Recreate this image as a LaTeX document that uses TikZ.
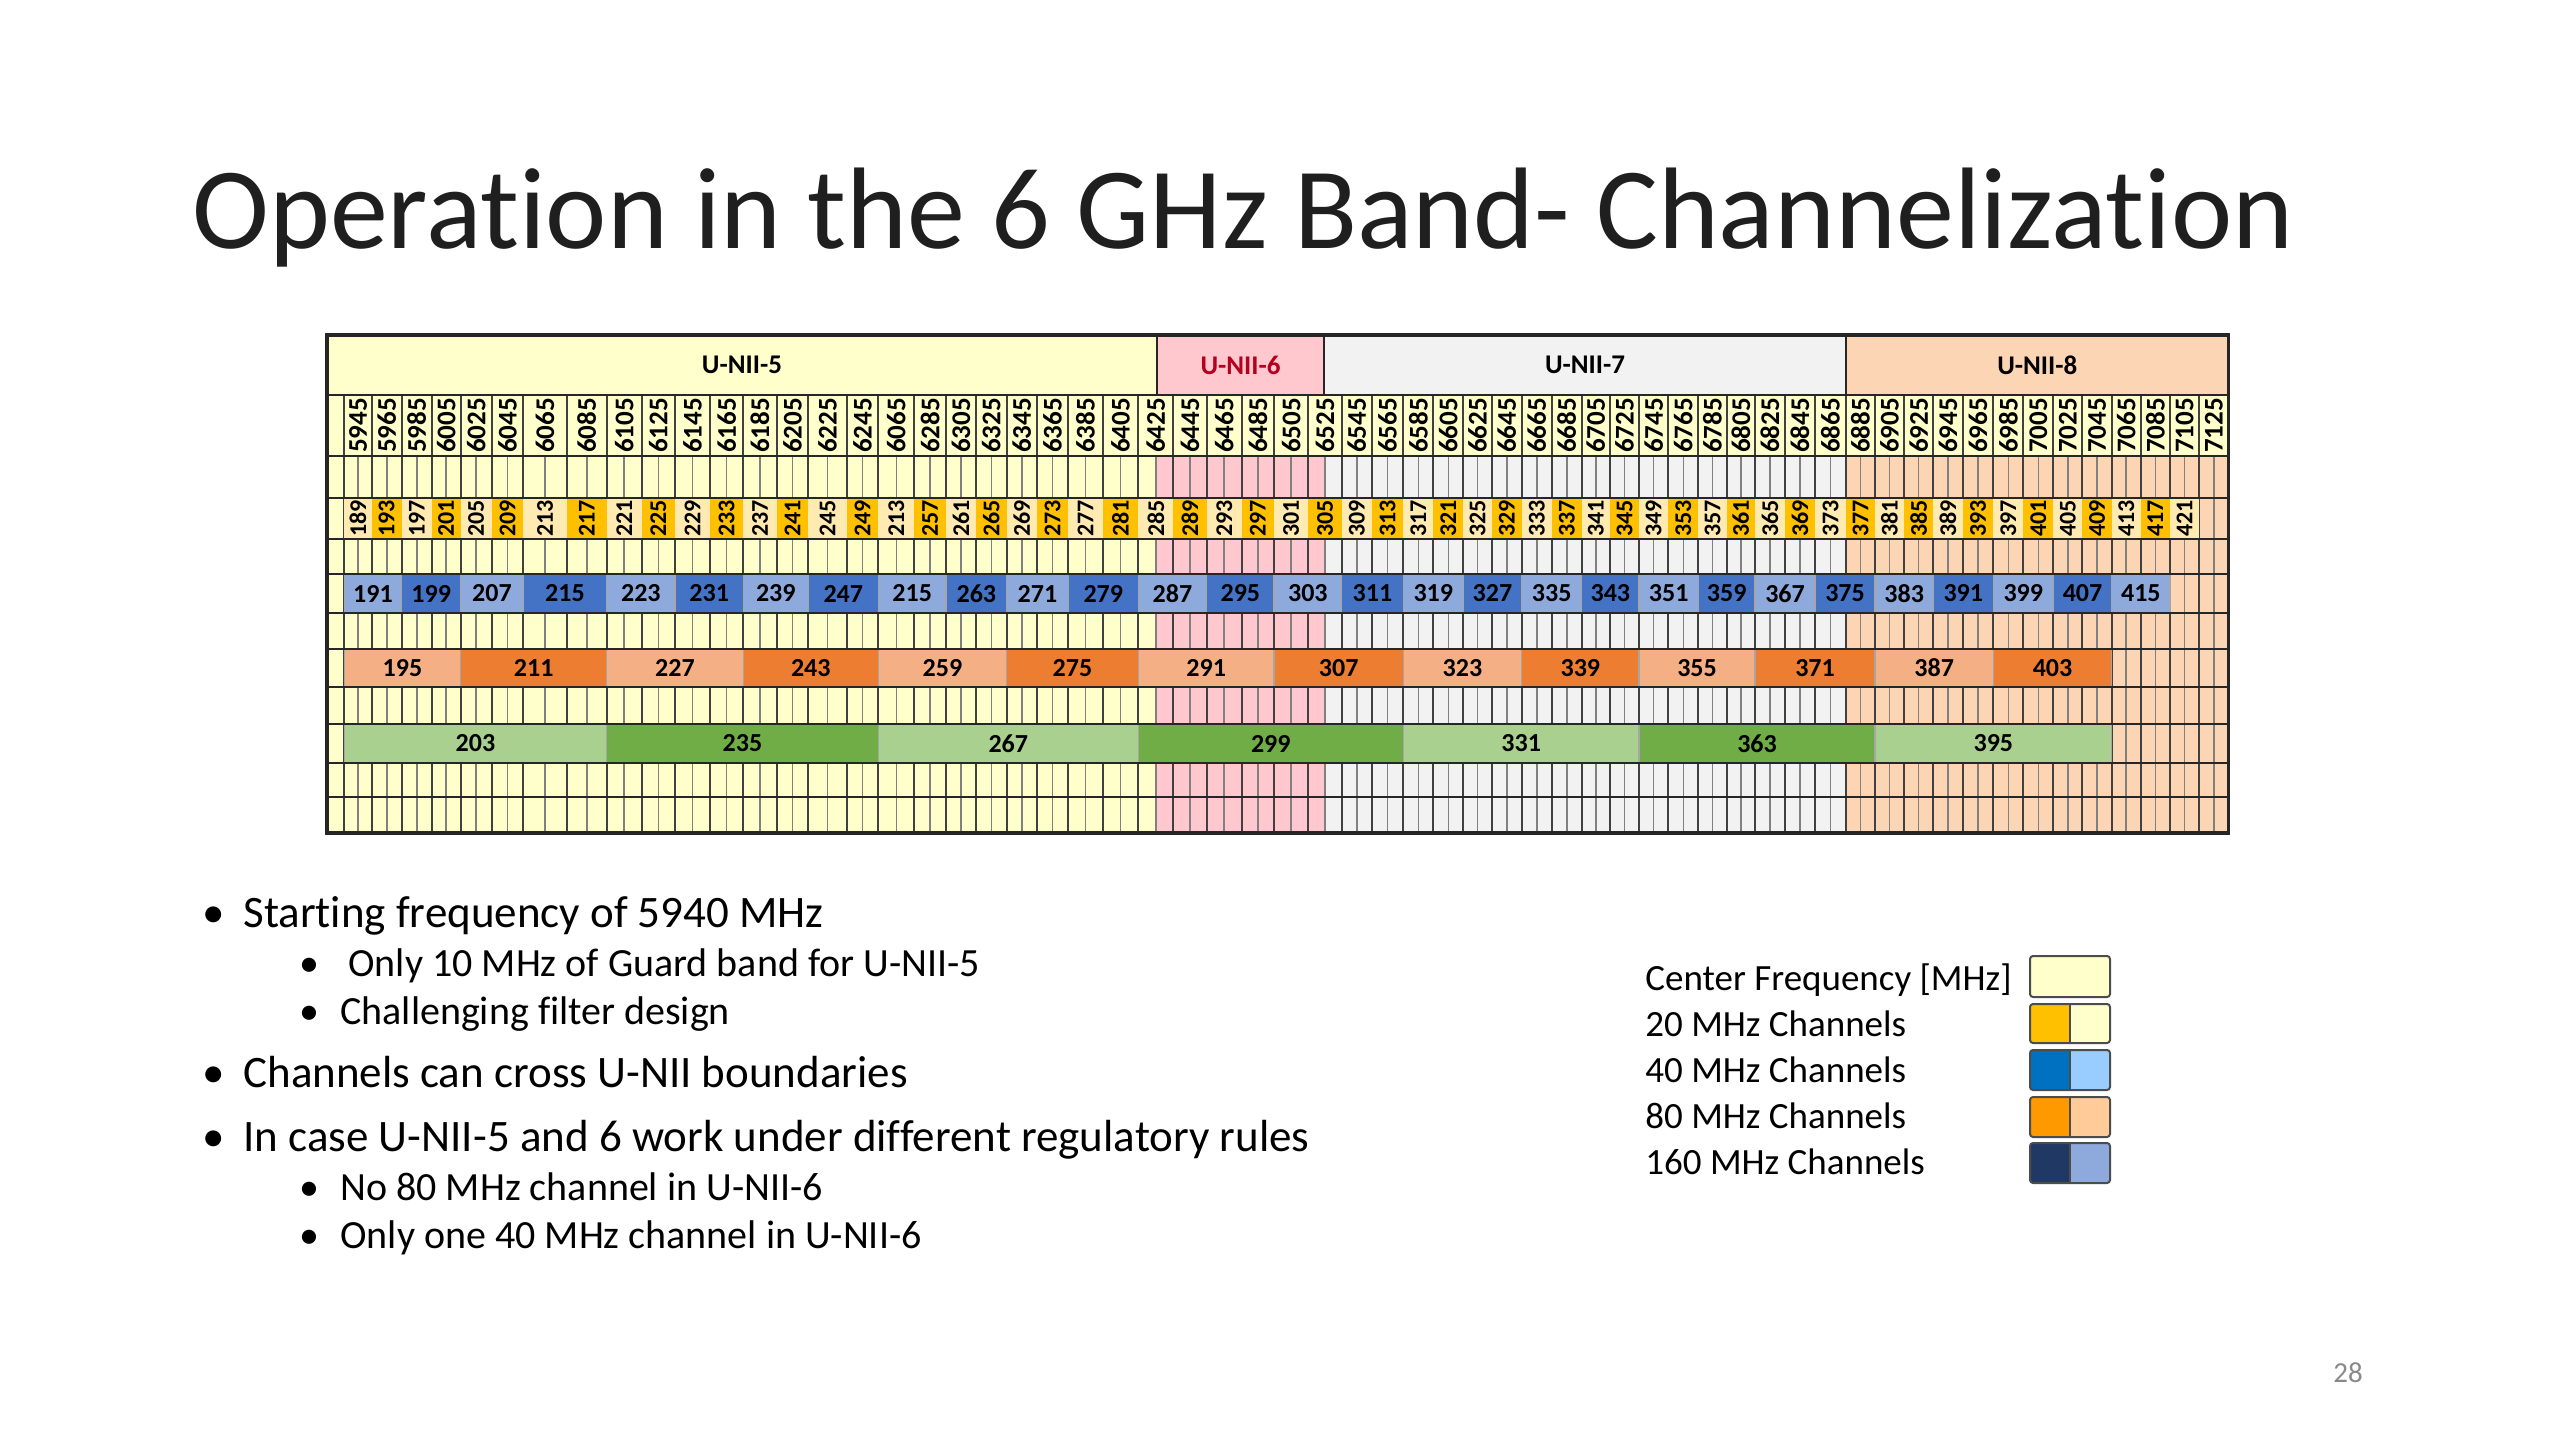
\documentclass[tikz,border=0pt]{standalone}
\usepackage{fontspec}
\setmainfont{Carlito}[Ligatures=NoCommon]
\definecolor{bandA}{RGB}{255,255,204}
\definecolor{bandB}{RGB}{255,199,206}
\definecolor{bandC}{RGB}{242,242,242}
\definecolor{bandD}{RGB}{252,213,180}
\definecolor{unisix}{RGB}{180,0,30}
\definecolor{cTwL}{RGB}{255,235,178}
\definecolor{cTwD}{RGB}{255,192,0}
\definecolor{cFoL}{RGB}{142,169,219}
\definecolor{cFoD}{RGB}{68,114,196}
\definecolor{cEiL}{RGB}{244,176,132}
\definecolor{cEiD}{RGB}{237,125,49}
\definecolor{cSxL}{RGB}{169,208,142}
\definecolor{cSxD}{RGB}{112,173,71}
\definecolor{lgFoD}{RGB}{0,112,192}
\definecolor{lgFoL}{RGB}{153,204,255}
\definecolor{lgEiD}{RGB}{255,153,0}
\definecolor{lgEiL}{RGB}{255,204,153}
\definecolor{lgSxD}{RGB}{31,56,100}
\definecolor{lgSxL}{RGB}{142,169,219}
\definecolor{pgnum}{RGB}{137,137,137}
\begin{document}
\begin{tikzpicture}[x=0.5pt,y=-0.5pt,
  hdr/.style={font=\fontsize{13.5}{16}\selectfont\bfseries, inner sep=0},
  frq/.style={rotate=90,font=\fontsize{13.5}{15}\selectfont\bfseries, inner sep=0},
  chA/.style={rotate=90,font=\fontsize{12}{14}\selectfont\bfseries, inner sep=0},
  chB/.style={font=\fontsize{13}{15}\selectfont\bfseries, inner sep=0},
  gridmajor/.style={draw=black!75, line width=1pt},
  gridminor/.style={draw=black!50, line width=0.8pt},
  rowline/.style={draw=black!85, line width=1.1pt},
  blk/.style={draw=black!35, line width=0.6pt},
  bul/.style={anchor=base west, inner sep=0, font=\fontsize{22.5}{27}\selectfont},
  subbul/.style={anchor=base west, inner sep=0, font=\fontsize{20}{24}\selectfont},
  lgtext/.style={anchor=base west, inner sep=0, font=\fontsize{18.5}{22}\selectfont},
  swatch/.style={draw=black!70, line width=1pt, rounded corners=1.5pt}
]
\useasboundingbox (0,0) rectangle (2560,1440);
\fill[white] (0,0) rectangle (2560,1440);

\def\CX{{344.3,371.7,401.7,431.7,460.7,491.7,523.3,566.7,606.7,641.7,675,710,743.3,776.7,808.3,846.7,878.3,914.3,946,976,1006.7,1036.7,1068.3,1102.7,1138.3,1173.3,1206.7,1241.7,1274,1308.3,1341.7,1371.7,1403.3,1433.3,1463.3,1491.7,1521.7,1551.7,1581.7,1610,1639,1668.3,1698.3,1726.7,1755,1785,1815,1846,1875,1904,1933.3,1962.7,1993.3,2023.3,2053.3,2082.3,2111.7,2140.7,2170,2199,2228.5}}
\def\TL{327}\def\TR{2228.5}
\def\BA{1157}\def\BB{1324}\def\BC{1846}

% title
\node[anchor=base west, inner sep=0, font=\fontsize{58}{68}\selectfont, text=black!88] (title) at (192,248) {Operation in the 6 GHz Band- Channelization};

% header band fills
\fill[bandA] (\TL,335) rectangle (\BA,395);
\fill[bandB] (\BA,335) rectangle (\BB,395);
\fill[bandC] (\BB,335) rectangle (\BC,395);
\fill[bandD] (\BC,335) rectangle (\TR,395);
% frequency row
\fill[bandA] (\TL,395) rectangle (\TR,456);
% lower band fills
\fill[bandA] (\TL,456) rectangle (\BA,833);
\fill[bandB] (\BA,456) rectangle (\BB,833);
\fill[bandC] (\BB,456) rectangle (\BC,833);
\fill[bandD] (\BC,456) rectangle (\TR,833);

% fine grid in lower rows
\foreach \i in {0,...,60} {
  \pgfmathsetmacro\xx{\CX[\i]}
  \draw[gridmajor] (\xx,456) -- (\xx,833);
  \draw[gridmajor] (\xx,395) -- (\xx,456);
}
\foreach \i in {0,...,59} {
  \pgfmathtruncatemacro\ip{\i+1}
  \pgfmathsetmacro\xa{\CX[\i]}\pgfmathsetmacro\xb{\CX[\ip]}
  \pgfmathsetmacro\xx{(\xa+\xb)/2}
  \draw[gridminor] (\xx,456) -- (\xx,833);
}

% header separators and labels
\foreach \xx in {\BA,\BB,\BC} { \draw[rowline] (\xx,335) -- (\xx,395); }
\node[hdr] (hA) at ({(\TL+\BA)/2},365) {U-NII-5};
\node[hdr, text=unisix] (hB) at ({(\BA+\BB)/2},365) {U-NII-6};
\node[hdr] (hC) at ({(\BB+\BC)/2},365) {U-NII-7};
\node[hdr] (hD) at ({(\BC+\TR)/2},365) {U-NII-8};

% frequency labels
\foreach \i in {0,...,59} {
  \pgfmathtruncatemacro\ip{\i+1}
  \pgfmathsetmacro\xa{\CX[\i]}\pgfmathsetmacro\xb{\CX[\ip]}
  \pgfmathtruncatemacro\fq{5945+20*\i}
  \ifnum\i=16 \def\fq{6065}\fi
  \node[frq] (fq\i) at ({(\xa+\xb)/2},425.5) {\fq};
}

% 20 MHz channels
\foreach \i in {0,...,58} {
  \pgfmathtruncatemacro\ip{\i+1}
  \pgfmathsetmacro\xa{\CX[\i]}\pgfmathsetmacro\xb{\CX[\ip]}
  \pgfmathtruncatemacro\ch{189+4*\i}
  \ifnum\i=16 \def\ch{213}\fi
  \ifodd\i \def\cc{cTwD}\else\def\cc{cTwL}\fi
  \fill[\cc] (\xa,498) rectangle (\xb,539);
  \node[chA] (ctw\i) at ({(\xa+\xb)/2},518.5) {\ch};
}

% 40 MHz channels
\foreach \j in {0,...,28} {
  \pgfmathtruncatemacro\ia{2*\j}\pgfmathtruncatemacro\ib{2*\j+2}
  \pgfmathsetmacro\xa{\CX[\ia]}\pgfmathsetmacro\xb{\CX[\ib]}
  \pgfmathtruncatemacro\ch{191+8*\j}
  \ifnum\j=8 \def\ch{215}\fi
  \ifodd\j \def\cc{cFoD}\else\def\cc{cFoL}\fi
  \filldraw[blk, fill=\cc] (\xa,574) rectangle (\xb,613);
  \node[chB] (cfo\j) at ({(\xa+\xb)/2},593.5) {\ch};
}

% 80 MHz channels
\foreach \k in {0,...,13} {
  \pgfmathtruncatemacro\ia{4*\k}\pgfmathtruncatemacro\ib{4*\k+4}
  \pgfmathsetmacro\xa{\CX[\ia]}\pgfmathsetmacro\xb{\CX[\ib]}
  \pgfmathtruncatemacro\ch{195+16*\k}
  \ifodd\k \def\cc{cEiD}\else\def\cc{cEiL}\fi
  \filldraw[blk, fill=\cc] (\xa,649) rectangle (\xb,687);
  \node[chB] (cei\k) at ({(\xa+\xb)/2},668) {\ch};
}

% 160 MHz channels
\foreach \m in {0,...,6} {
  \pgfmathtruncatemacro\ia{8*\m}\pgfmathtruncatemacro\ib{8*\m+8}
  \pgfmathsetmacro\xa{\CX[\ia]}\pgfmathsetmacro\xb{\CX[\ib]}
  \pgfmathtruncatemacro\ch{203+32*\m}
  \ifodd\m \def\cc{cSxD}\else\def\cc{cSxL}\fi
  \filldraw[blk, fill=\cc] (\xa,724) rectangle (\xb,763);
  \node[chB] (csx\m) at ({(\xa+\xb)/2},743.5) {\ch};
}

% row lines
\foreach \yy in {395,456,498,539,574,613,649,687,724,763,797} {
  \draw[rowline] (\TL,\yy) -- (\TR,\yy);
}
\draw[draw=black!85, line width=1.8pt] (\TL,335) rectangle (\TR,833);

% bullets
\node[bul] (b1d) at (202,927) {\textbullet};
\node[bul] (b1) at (243,927) {Starting frequency of 5940 MHz};
\node[subbul] (b2d) at (299,976) {\textbullet};
\node[subbul] (b2) at (348,976) {Only 10 MHz of Guard band for U-NII-5};
\node[subbul] (b3d) at (299,1024) {\textbullet};
\node[subbul] (b3) at (340,1024) {Challenging filter design};
\node[bul] (b4d) at (202,1087) {\textbullet};
\node[bul] (b4) at (243,1087) {Channels can cross U-NII boundaries};
\node[bul] (b5d) at (202,1151) {\textbullet};
\node[bul] (b5) at (243,1151) {In case U-NII-5 and 6 work under different regulatory rules};
\node[subbul] (b6d) at (299,1200) {\textbullet};
\node[subbul] (b6) at (340,1200) {No 80 MHz channel in U-NII-6};
\node[subbul] (b7d) at (299,1248) {\textbullet};
\node[subbul] (b7) at (340,1248) {Only one 40 MHz channel in U-NII-6};

% legend
\node[lgtext] (lg1) at (1645,990) {Center Frequency [MHz]};
\node[lgtext] (lg2) at (1645,1036) {20 MHz Channels};
\node[lgtext] (lg3) at (1645,1082) {40 MHz Channels};
\node[lgtext] (lg4) at (1645,1128) {80 MHz Channels};
\node[lgtext] (lg5) at (1645,1174) {160 MHz Channels};
\filldraw[swatch, fill=bandA] (2030,956) rectangle (2110,997);
\foreach \ya/\yb/\cd/\cl in {1004/1043/cTwD/bandA, 1050/1090/lgFoD/lgFoL, 1097/1137/lgEiD/lgEiL, 1143/1183/lgSxD/lgSxL} {
  \fill[\cl, rounded corners=1.5pt] (2030,\ya) rectangle (2110,\yb);
  \fill[\cd] (2031,\ya+1) rectangle (2070,\yb-1);
  \draw[swatch] (2030,\ya) rectangle (2110,\yb);
  \draw[draw=black!70, line width=1pt] (2070,\ya) -- (2070,\yb);
}

% page number
\node[inner sep=0, font=\fontsize{14.5}{17}\selectfont, text=pgnum] (pg) at (2348,1373) {28};
\end{tikzpicture}
\end{document}
